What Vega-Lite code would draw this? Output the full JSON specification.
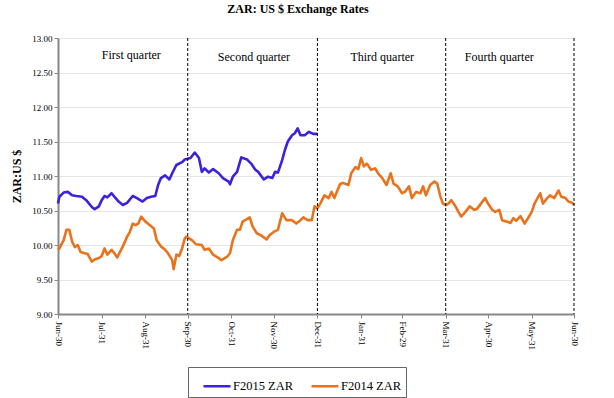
{
  "$schema": "https://vega.github.io/schema/vega-lite/v6.json",
  "width": 516,
  "height": 276,
  "autosize": {"type": "none"},
  "padding": {"left": 58, "top": 38, "right": 40, "bottom": 84},
  "background": "white",
  "title": {"text": "ZAR: US $ Exchange Rates", "font": "Liberation Serif", "fontSize": 12, "fontWeight": "bold", "color": "#000", "anchor": "middle", "dx": -18, "offset": 18},
  "config": {
    "view": {"stroke": null},
    "font": "Liberation Serif",
    "legend": {"labelFont": "Liberation Serif"}
  },
  "layer": [
    {
      "data": {"values": [
        {"d":0,"s":"F2015 ZAR","v":10.60},{"d":1,"s":"F2015 ZAR","v":10.70},{"d":4,"s":"F2015 ZAR","v":10.76},{"d":7,"s":"F2015 ZAR","v":10.77},{"d":10,"s":"F2015 ZAR","v":10.72},{"d":13,"s":"F2015 ZAR","v":10.71},{"d":17,"s":"F2015 ZAR","v":10.70},{"d":20,"s":"F2015 ZAR","v":10.65},{"d":24,"s":"F2015 ZAR","v":10.55},{"d":26,"s":"F2015 ZAR","v":10.52},{"d":29,"s":"F2015 ZAR","v":10.56},{"d":31,"s":"F2015 ZAR","v":10.65},{"d":33,"s":"F2015 ZAR","v":10.71},{"d":35,"s":"F2015 ZAR","v":10.69},{"d":38,"s":"F2015 ZAR","v":10.75},{"d":40,"s":"F2015 ZAR","v":10.70},{"d":43,"s":"F2015 ZAR","v":10.63},{"d":46,"s":"F2015 ZAR","v":10.58},{"d":49,"s":"F2015 ZAR","v":10.61},{"d":53,"s":"F2015 ZAR","v":10.71},{"d":56,"s":"F2015 ZAR","v":10.68},{"d":60,"s":"F2015 ZAR","v":10.63},{"d":63,"s":"F2015 ZAR","v":10.68},{"d":66,"s":"F2015 ZAR","v":10.70},{"d":69,"s":"F2015 ZAR","v":10.71},{"d":71,"s":"F2015 ZAR","v":10.87},{"d":73,"s":"F2015 ZAR","v":10.97},{"d":76,"s":"F2015 ZAR","v":11.01},{"d":79,"s":"F2015 ZAR","v":10.95},{"d":81,"s":"F2015 ZAR","v":11.04},{"d":84,"s":"F2015 ZAR","v":11.16},{"d":88,"s":"F2015 ZAR","v":11.20},{"d":90,"s":"F2015 ZAR","v":11.24},{"d":94,"s":"F2015 ZAR","v":11.26},{"d":97,"s":"F2015 ZAR","v":11.34},{"d":100,"s":"F2015 ZAR","v":11.26},{"d":102,"s":"F2015 ZAR","v":11.06},{"d":104,"s":"F2015 ZAR","v":11.11},{"d":107,"s":"F2015 ZAR","v":11.05},{"d":110,"s":"F2015 ZAR","v":11.10},{"d":114,"s":"F2015 ZAR","v":11.04},{"d":117,"s":"F2015 ZAR","v":10.97},{"d":121,"s":"F2015 ZAR","v":10.92},{"d":122,"s":"F2015 ZAR","v":10.88},{"d":124,"s":"F2015 ZAR","v":10.99},{"d":127,"s":"F2015 ZAR","v":11.06},{"d":130,"s":"F2015 ZAR","v":11.27},{"d":134,"s":"F2015 ZAR","v":11.24},{"d":137,"s":"F2015 ZAR","v":11.18},{"d":140,"s":"F2015 ZAR","v":11.09},{"d":142,"s":"F2015 ZAR","v":11.06},{"d":146,"s":"F2015 ZAR","v":10.95},{"d":149,"s":"F2015 ZAR","v":10.99},{"d":152,"s":"F2015 ZAR","v":10.97},{"d":154,"s":"F2015 ZAR","v":11.06},{"d":156,"s":"F2015 ZAR","v":11.05},{"d":159,"s":"F2015 ZAR","v":11.23},{"d":161,"s":"F2015 ZAR","v":11.38},{"d":163,"s":"F2015 ZAR","v":11.50},{"d":166,"s":"F2015 ZAR","v":11.59},{"d":168,"s":"F2015 ZAR","v":11.62},{"d":170,"s":"F2015 ZAR","v":11.69},{"d":172,"s":"F2015 ZAR","v":11.59},{"d":175,"s":"F2015 ZAR","v":11.59},{"d":178,"s":"F2015 ZAR","v":11.64},{"d":181,"s":"F2015 ZAR","v":11.61},{"d":184,"s":"F2015 ZAR","v":11.61},
        {"d":0,"s":"F2014 ZAR","v":9.93},{"d":1,"s":"F2014 ZAR","v":9.95},{"d":4,"s":"F2014 ZAR","v":10.07},{"d":6,"s":"F2014 ZAR","v":10.22},{"d":8,"s":"F2014 ZAR","v":10.22},{"d":10,"s":"F2014 ZAR","v":10.05},{"d":12,"s":"F2014 ZAR","v":9.97},{"d":14,"s":"F2014 ZAR","v":10.00},{"d":16,"s":"F2014 ZAR","v":9.90},{"d":19,"s":"F2014 ZAR","v":9.88},{"d":21,"s":"F2014 ZAR","v":9.87},{"d":24,"s":"F2014 ZAR","v":9.76},{"d":26,"s":"F2014 ZAR","v":9.79},{"d":29,"s":"F2014 ZAR","v":9.81},{"d":31,"s":"F2014 ZAR","v":9.84},{"d":33,"s":"F2014 ZAR","v":9.95},{"d":35,"s":"F2014 ZAR","v":9.86},{"d":38,"s":"F2014 ZAR","v":9.93},{"d":40,"s":"F2014 ZAR","v":9.88},{"d":42,"s":"F2014 ZAR","v":9.82},{"d":44,"s":"F2014 ZAR","v":9.90},{"d":46,"s":"F2014 ZAR","v":9.98},{"d":49,"s":"F2014 ZAR","v":10.12},{"d":51,"s":"F2014 ZAR","v":10.19},{"d":53,"s":"F2014 ZAR","v":10.31},{"d":55,"s":"F2014 ZAR","v":10.29},{"d":57,"s":"F2014 ZAR","v":10.31},{"d":59,"s":"F2014 ZAR","v":10.41},{"d":62,"s":"F2014 ZAR","v":10.34},{"d":65,"s":"F2014 ZAR","v":10.29},{"d":68,"s":"F2014 ZAR","v":10.24},{"d":70,"s":"F2014 ZAR","v":10.07},{"d":73,"s":"F2014 ZAR","v":9.98},{"d":76,"s":"F2014 ZAR","v":9.93},{"d":78,"s":"F2014 ZAR","v":9.88},{"d":81,"s":"F2014 ZAR","v":9.78},{"d":82,"s":"F2014 ZAR","v":9.65},{"d":84,"s":"F2014 ZAR","v":9.86},{"d":86,"s":"F2014 ZAR","v":9.84},{"d":88,"s":"F2014 ZAR","v":9.95},{"d":90,"s":"F2014 ZAR","v":10.10},{"d":91,"s":"F2014 ZAR","v":10.12},{"d":95,"s":"F2014 ZAR","v":10.07},{"d":98,"s":"F2014 ZAR","v":10.01},{"d":102,"s":"F2014 ZAR","v":10.00},{"d":104,"s":"F2014 ZAR","v":9.93},{"d":107,"s":"F2014 ZAR","v":9.95},{"d":110,"s":"F2014 ZAR","v":9.86},{"d":114,"s":"F2014 ZAR","v":9.81},{"d":116,"s":"F2014 ZAR","v":9.78},{"d":120,"s":"F2014 ZAR","v":9.83},{"d":122,"s":"F2014 ZAR","v":9.88},{"d":124,"s":"F2014 ZAR","v":10.07},{"d":127,"s":"F2014 ZAR","v":10.22},{"d":129,"s":"F2014 ZAR","v":10.22},{"d":131,"s":"F2014 ZAR","v":10.34},{"d":136,"s":"F2014 ZAR","v":10.40},{"d":138,"s":"F2014 ZAR","v":10.27},{"d":141,"s":"F2014 ZAR","v":10.17},{"d":144,"s":"F2014 ZAR","v":10.14},{"d":148,"s":"F2014 ZAR","v":10.08},{"d":150,"s":"F2014 ZAR","v":10.14},{"d":153,"s":"F2014 ZAR","v":10.19},{"d":156,"s":"F2014 ZAR","v":10.22},{"d":159,"s":"F2014 ZAR","v":10.46},{"d":162,"s":"F2014 ZAR","v":10.36},{"d":166,"s":"F2014 ZAR","v":10.36},{"d":169,"s":"F2014 ZAR","v":10.31},{"d":172,"s":"F2014 ZAR","v":10.36},{"d":174,"s":"F2014 ZAR","v":10.40},{"d":177,"s":"F2014 ZAR","v":10.36},{"d":180,"s":"F2014 ZAR","v":10.36},{"d":182,"s":"F2014 ZAR","v":10.56},{"d":184,"s":"F2014 ZAR","v":10.53},{"d":186,"s":"F2014 ZAR","v":10.60},{"d":189,"s":"F2014 ZAR","v":10.72},{"d":192,"s":"F2014 ZAR","v":10.68},{"d":194,"s":"F2014 ZAR","v":10.77},{"d":196,"s":"F2014 ZAR","v":10.68},{"d":200,"s":"F2014 ZAR","v":10.88},{"d":202,"s":"F2014 ZAR","v":10.90},{"d":206,"s":"F2014 ZAR","v":10.87},{"d":208,"s":"F2014 ZAR","v":11.04},{"d":211,"s":"F2014 ZAR","v":11.13},{"d":213,"s":"F2014 ZAR","v":11.10},{"d":215,"s":"F2014 ZAR","v":11.26},{"d":217,"s":"F2014 ZAR","v":11.14},{"d":219,"s":"F2014 ZAR","v":11.18},{"d":222,"s":"F2014 ZAR","v":11.09},{"d":225,"s":"F2014 ZAR","v":11.11},{"d":227,"s":"F2014 ZAR","v":11.04},{"d":230,"s":"F2014 ZAR","v":10.97},{"d":233,"s":"F2014 ZAR","v":10.87},{"d":236,"s":"F2014 ZAR","v":11.04},{"d":238,"s":"F2014 ZAR","v":10.89},{"d":241,"s":"F2014 ZAR","v":10.85},{"d":244,"s":"F2014 ZAR","v":10.75},{"d":246,"s":"F2014 ZAR","v":10.77},{"d":249,"s":"F2014 ZAR","v":10.85},{"d":251,"s":"F2014 ZAR","v":10.68},{"d":254,"s":"F2014 ZAR","v":10.77},{"d":257,"s":"F2014 ZAR","v":10.75},{"d":259,"s":"F2014 ZAR","v":10.85},{"d":261,"s":"F2014 ZAR","v":10.72},{"d":264,"s":"F2014 ZAR","v":10.87},{"d":267,"s":"F2014 ZAR","v":10.92},{"d":269,"s":"F2014 ZAR","v":10.89},{"d":271,"s":"F2014 ZAR","v":10.72},{"d":273,"s":"F2014 ZAR","v":10.60},{"d":275,"s":"F2014 ZAR","v":10.58},{"d":277,"s":"F2014 ZAR","v":10.60},{"d":279,"s":"F2014 ZAR","v":10.65},{"d":282,"s":"F2014 ZAR","v":10.56},{"d":284,"s":"F2014 ZAR","v":10.48},{"d":286,"s":"F2014 ZAR","v":10.41},{"d":289,"s":"F2014 ZAR","v":10.48},{"d":292,"s":"F2014 ZAR","v":10.56},{"d":295,"s":"F2014 ZAR","v":10.51},{"d":297,"s":"F2014 ZAR","v":10.52},{"d":300,"s":"F2014 ZAR","v":10.60},{"d":303,"s":"F2014 ZAR","v":10.68},{"d":305,"s":"F2014 ZAR","v":10.60},{"d":308,"s":"F2014 ZAR","v":10.51},{"d":310,"s":"F2014 ZAR","v":10.48},{"d":313,"s":"F2014 ZAR","v":10.51},{"d":315,"s":"F2014 ZAR","v":10.36},{"d":318,"s":"F2014 ZAR","v":10.34},{"d":321,"s":"F2014 ZAR","v":10.32},{"d":323,"s":"F2014 ZAR","v":10.39},{"d":325,"s":"F2014 ZAR","v":10.35},{"d":328,"s":"F2014 ZAR","v":10.42},{"d":331,"s":"F2014 ZAR","v":10.31},{"d":334,"s":"F2014 ZAR","v":10.41},{"d":336,"s":"F2014 ZAR","v":10.48},{"d":338,"s":"F2014 ZAR","v":10.60},{"d":342,"s":"F2014 ZAR","v":10.75},{"d":344,"s":"F2014 ZAR","v":10.60},{"d":347,"s":"F2014 ZAR","v":10.68},{"d":349,"s":"F2014 ZAR","v":10.72},{"d":352,"s":"F2014 ZAR","v":10.68},{"d":355,"s":"F2014 ZAR","v":10.79},{"d":357,"s":"F2014 ZAR","v":10.70},{"d":360,"s":"F2014 ZAR","v":10.68},{"d":362,"s":"F2014 ZAR","v":10.63},{"d":365,"s":"F2014 ZAR","v":10.61},{"d":366,"s":"F2014 ZAR","v":10.58}
      ]},
      "mark": {"type": "line", "strokeWidth": 2.6, "strokeJoin": "round"},
      "encoding": {
        "x": {
          "field": "d", "type": "quantitative",
          "scale": {"domain": [0, 366], "nice": false, "zero": false},
          "axis": {
            "title": null,
            "values": [0, 31, 62, 92, 123, 153, 184, 215, 244, 275, 305, 336, 366],
            "tickCount": 20,
            "labelExpr": "['Jun-30','Jul-31','Aug-31','Sep-30','Oct-31','Nov-30','Dec-31','Jan-31','Feb-29','Mar-31','Apr-30','May-31','Jun-30'][indexof([0,31,62,92,123,153,184,215,244,275,305,336,366], datum.value)]",
            "labelAngle": 90,
            "labelFont": "Liberation Serif",
            "labelFontSize": 9,
            "labelColor": "#000",
            "labelPadding": 3,
            "grid": false,
            "domainColor": "#888",
            "domainWidth": 2,
            "tickColor": "#888",
            "tickSize": 4,
            "labelOverlap": false,
            "labelFlush": false
          }
        },
        "y": {
          "field": "v", "type": "quantitative",
          "scale": {"domain": [9, 13], "nice": false, "zero": false},
          "axis": {
            "title": "ZAR:US $",
            "titleFont": "Liberation Serif",
            "titleFontSize": 12,
            "titleFontWeight": "bold",
            "titleColor": "#000",
            "titlePadding": 8,
            "values": [9, 9.5, 10, 10.5, 11, 11.5, 12, 12.5, 13],
            "tickCount": 20,
            "format": ".2f",
            "labelOverlap": false,
            "labelFlush": false,
            "labelFont": "Liberation Serif",
            "labelFontSize": 9,
            "labelColor": "#000",
            "gridColor": "#e6e6e6",
            "domainColor": "#888",
            "domainWidth": 2,
            "tickColor": "#888",
            "tickSize": 4
          }
        },
        "color": {
          "field": "s", "type": "nominal",
          "scale": {"domain": ["F2015 ZAR", "F2014 ZAR"], "range": ["#3B22DC", "#E8731C"]},
          "legend": {
            "title": null,
            "orient": "none",
            "legendX": 130,
            "legendY": 329,
            "direction": "horizontal",
            "columns": 2,
            "symbolType": "stroke",
            "symbolStrokeWidth": 2.5,
            "symbolSize": 729,
            "symbolOffset": 10,
            "labelOffset": 1,
            "labelFont": "Liberation Serif",
            "labelFontSize": 12.5,
            "labelColor": "#000",
            "columnPadding": 6,
            "padding": 4,
            "strokeColor": "#666",
            "fillColor": "white"
          }
        }
      }
    },
    {
      "data": {"values": [{"d": 92}, {"d": 184}, {"d": 275}, {"d": 366}]},
      "mark": {"type": "rule", "strokeDash": [3, 2], "color": "#000", "strokeWidth": 1},
      "encoding": {"x": {"field": "d", "type": "quantitative"}}
    },
    {
      "data": {"values": [
        {"d": 52, "v": 12.75, "label": "First quarter"},
        {"d": 139, "v": 12.72, "label": "Second quarter"},
        {"d": 230, "v": 12.72, "label": "Third quarter"},
        {"d": 313, "v": 12.72, "label": "Fourth quarter"}
      ]},
      "mark": {"type": "text", "font": "Liberation Serif", "fontSize": 12, "color": "#000"},
      "encoding": {
        "x": {"field": "d", "type": "quantitative"},
        "y": {"field": "v", "type": "quantitative"},
        "text": {"field": "label"}
      }
    }
  ]
}
